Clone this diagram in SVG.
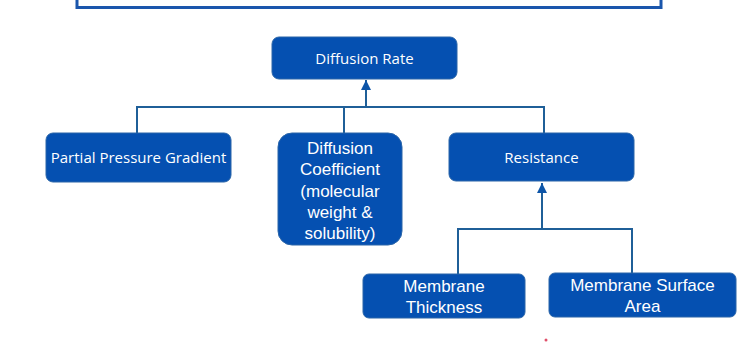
<svg xmlns="http://www.w3.org/2000/svg" width="748" height="351" viewBox="0 0 748 351">
<style>
.box{fill:#0550b1;stroke:#2a65a8;stroke-width:1}
.t1{font-family:"Open Sans",sans-serif;font-size:15px;fill:#ffffff;text-anchor:middle}
.t2{font-family:"Liberation Sans",Arial,sans-serif;font-size:17px;fill:#ffffff;text-anchor:middle}
.ln{fill:none;stroke:#1f5f98;stroke-width:2}
</style>
<defs>
<marker id="arr" markerWidth="10" markerHeight="10" refX="10" refY="5" orient="auto" markerUnits="userSpaceOnUse">
<path d="M0,0 L10,5 L0,10 Z" fill="#0d55a8"/>
</marker>
</defs>
<rect width="748" height="351" fill="#ffffff"/>
<rect x="77" y="-10" width="584" height="17.5" fill="none" stroke="#1a56ac" stroke-width="3"/>
<g id="connectors">
<path class="ln" d="M137,133 V107 H544 V133"/>
<path class="ln" d="M344,107 V133"/>
<path class="ln" d="M366,107 V80" marker-end="url(#arr)"/>
<path class="ln" d="M458,274 V229 H632 V274"/>
<path class="ln" d="M542,229 V183" marker-end="url(#arr)"/>
</g>
<g id="diffusion-rate">
<rect class="box" x="272" y="37" width="185" height="42" rx="7"/>
<text class="t1" x="364.5" y="64">Diffusion Rate</text>
</g>
<g id="partial-pressure-gradient">
<rect class="box" x="46" y="133" width="185" height="49" rx="7"/>
<text class="t1" x="138.5" y="163">Partial Pressure Gradient</text>
</g>
<g id="diffusion-coefficient">
<rect class="box" x="278" y="133" width="124" height="112" rx="14"/>
<text class="t2" x="340" y="154">Diffusion</text>
<text class="t2" x="340" y="175">Coefficient</text>
<text class="t2" x="340" y="197">(molecular</text>
<text class="t2" x="340" y="218">weight &amp;</text>
<text class="t2" x="340" y="239">solubility)</text>
</g>
<g id="resistance">
<rect class="box" x="449" y="133" width="185" height="48" rx="7"/>
<text class="t1" x="541.5" y="163">Resistance</text>
</g>
<g id="membrane-thickness">
<rect class="box" x="363" y="274" width="162" height="44" rx="6"/>
<text class="t2" x="444" y="292">Membrane</text>
<text class="t2" x="444" y="313">Thickness</text>
</g>
<g id="membrane-surface-area">
<rect class="box" x="549" y="273" width="187" height="44" rx="6"/>
<text class="t2" x="642.5" y="291">Membrane Surface</text>
<text class="t2" x="642.5" y="312">Area</text>
</g>
<circle cx="546" cy="340" r="1.5" fill="#e0506a"/>
</svg>
